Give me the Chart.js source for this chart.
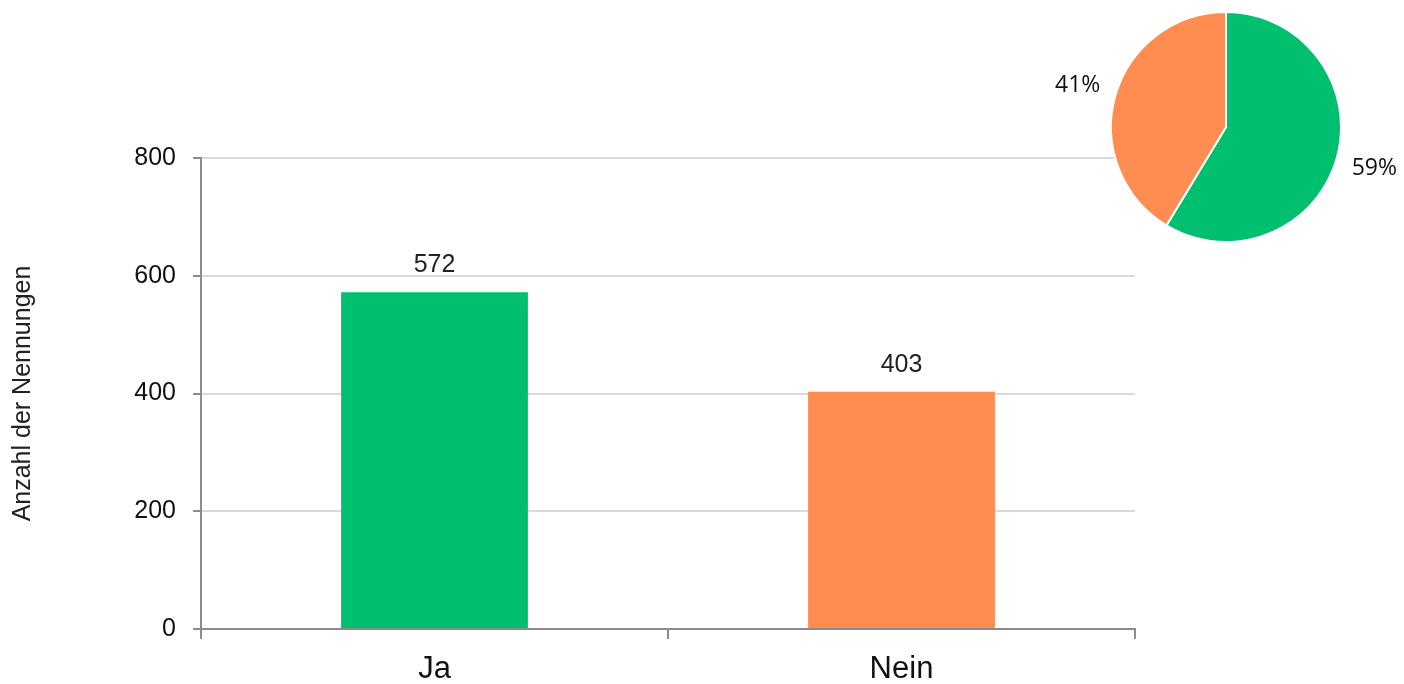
<!DOCTYPE html>
<html>
<head>
<meta charset="utf-8">
<script src="https://cdn.jsdelivr.net/npm/chart.js@4.4.1/dist/chart.umd.min.js"></script>
<style>
  html, body { margin: 0; padding: 0; background: #fff; }
  #wrap { position: relative; width: 1404px; height: 684px; }
  #barChart { position: absolute; left: 0; top: 0; }
  #pieChart { position: absolute; left: 1040px; top: 0; }
</style>
</head>
<body>
<div id="wrap">
  <canvas id="barChart" width="1404" height="684"></canvas>
  <canvas id="pieChart" width="364" height="260"></canvas>
</div>
<script>
const categories = ['Ja', 'Nein'];
const counts = [572, 403];
const barColors = ['#00bf6f', '#ff8c50'];
const yTicks = [0, 200, 400, 600, 800];
const pieLabels = ['59%', '41%'];

const axisFont = 'Liberation Sans';

// value labels above bars
const barValues = {
    id: 'barValues',
    afterDatasetsDraw(chart) {
        const ctx = chart.ctx;
        const meta = chart.getDatasetMeta(0);
        ctx.save();
        ctx.font = '25px ' + axisFont;
        ctx.fillStyle = '#222';
        ctx.textAlign = 'center';
        ctx.textBaseline = 'middle';
        meta.data.forEach((bar, i) => {
            ctx.fillText(counts[i], bar.x, bar.y - 27);
        });
        ctx.restore();
    }
};

new Chart(document.getElementById('barChart'), {
    type: 'bar',
    data: {
        labels: categories,
        datasets: [{
            data: counts,
            backgroundColor: barColors,
            categoryPercentage: 0.4,
            barPercentage: 1
        }]
    },
    options: {
        responsive: false,
        animation: false,
        layout: { padding: { left: 0, top: 158, right: 269, bottom: 0 } },
        plugins: { legend: { display: false }, tooltip: { enabled: false } },
        scales: {
            x: {
                offset: true,
                grid: {
                    offset: true,
                    drawOnChartArea: false,
                    tickLength: 10,
                    tickColor: '#8c8c8c',
                    lineWidth: 2
                },
                border: { color: '#8c8c8c', width: 2 },
                ticks: { color: '#111', font: { family: axisFont, size: 31 }, padding: 12 },
                afterFit: s => { s.height = 55; }
            },
            y: {
                min: 0,
                max: 800,
                afterBuildTicks: s => { s.ticks = yTicks.map(v => ({ value: v })); },
                grid: {
                    color: '#d9d9d9',
                    lineWidth: 2,
                    tickLength: 8,
                    tickColor: '#8c8c8c'
                },
                border: { color: '#8c8c8c', width: 2 },
                ticks: { color: '#111', font: { family: axisFont, size: 25 }, padding: 17 },
                title: {
                    display: true,
                    text: 'Anzahl der Nennungen',
                    color: '#222',
                    font: { family: axisFont, size: 25 },
                    padding: { top: 8, bottom: 0 }
                },
                afterFit: s => { s.width = 201; }
            }
        }
    },
    plugins: [barValues]
});

// percent labels outside the pie
const pieValues = {
    id: 'pieValues',
    afterDatasetsDraw(chart) {
        const ctx = chart.ctx;
        const meta = chart.getDatasetMeta(0);
        ctx.save();
        ctx.font = '23px "Open Sans"';
        ctx.fillStyle = '#111';
        ctx.textAlign = 'center';
        ctx.textBaseline = 'middle';
        meta.data.forEach((arc, i) => {
            const mid = (arc.startAngle + arc.endAngle) / 2;
            const r = arc.outerRadius + 39;
            ctx.fillText(pieLabels[i], arc.x + Math.cos(mid) * r, arc.y + Math.sin(mid) * r);
        });
        ctx.restore();
    }
};

new Chart(document.getElementById('pieChart'), {
    type: 'pie',
    data: {
        labels: categories,
        datasets: [{
            data: counts,
            backgroundColor: barColors,
            borderColor: '#fff',
            borderWidth: 2
        }]
    },
    options: {
        responsive: false,
        animation: false,
        layout: { padding: { left: 70, right: 62, top: 10, bottom: 16 } },
        plugins: { legend: { display: false }, tooltip: { enabled: false } }
    },
    plugins: [pieValues]
});
</script>
</body>
</html>
